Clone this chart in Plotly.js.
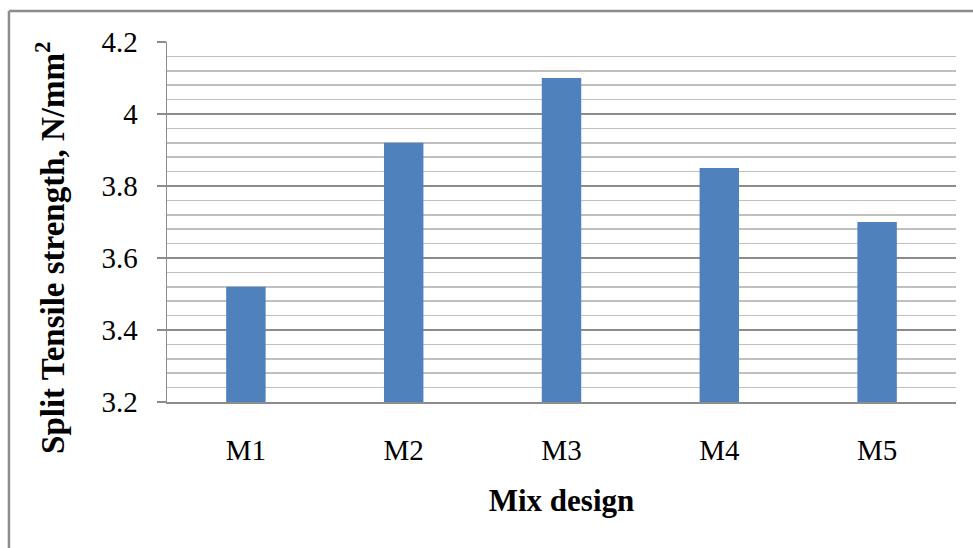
<!DOCTYPE html>
<html>
<head>
<meta charset="utf-8">
<script src="https://cdn.plot.ly/plotly-3.0.1.min.js"></script>
<style>
html,body{margin:0;padding:0;background:#fff;}
#chart{width:973px;height:548px;}
</style>
</head>
<body>
<div id="chart"></div>
<script>
const categories = ["M1", "M2", "M3", "M4", "M5"];
const splitTensile = [3.52, 3.92, 4.10, 3.85, 3.70];
const yTickVals = [3.2, 3.4, 3.6, 3.8, 4.0, 4.2];
const yTickText = ["3.2", "3.4", "3.6", "3.8", "4", "4.2"];
const yTitle = "<b>Split Tensile strength, N/mm<sup>2</sup></b>";
const xTitle = "<b>Mix design</b>";

const font = "Liberation Serif";

const trace = {
  type: "bar",
  x: categories,
  y: splitTensile,
  marker: {color: "#4F81BD", line: {width: 0}},
  hoverinfo: "x+y"
};

const layout = {
  width: 973,
  height: 548,
  margin: {l: 167, r: 17, t: 42, b: 146},
  paper_bgcolor: "#ffffff",
  plot_bgcolor: "#ffffff",
  showlegend: false,
  bargap: 0.75,
  font: {family: font, color: "#000"},
  xaxis: {
    type: "category",
    showgrid: false,
    showline: true,
    linecolor: "#8c8c8c",
    linewidth: 1.5,
    ticks: "",
    tickfont: {family: font, size: 29, color: "#000"},
    ticklabelstandoff: 22,
    title: {text: xTitle, font: {family: font, size: 31, color: "#000"}, standoff: 24},
    zeroline: false
  },
  yaxis: {
    range: [3.2, 4.2],
    tickvals: yTickVals,
    ticktext: yTickText,
    showgrid: true,
    gridcolor: "#8c8c8c",
    gridwidth: 1.5,
    showline: true,
    linecolor: "#8c8c8c",
    linewidth: 1.5,
    ticks: "outside",
    ticklen: 9,
    tickwidth: 1.5,
    tickcolor: "#8c8c8c",
    ticklabelstandoff: 13,
    tickfont: {family: font, size: 29, color: "#000"},
    minor: {dtick: 0.04, tick0: 3.2, showgrid: true, gridcolor: "#c0c0c0", gridwidth: 1.5, ticks: ""},
    zeroline: false
  },
  annotations: [
    {text: yTitle, xref: "paper", yref: "paper", x: -0.1483, y: 0.4306, xanchor: "center", yanchor: "middle",
     textangle: -90, showarrow: false, font: {family: font, size: 33, color: "#000"}}
  ],
  shapes: [
    {type: "line", xref: "paper", yref: "paper", x0: -0.2003, x1: 1.1, y0: 1.0861, y1: 1.0861, line: {color: "#8c8c8c", width: 2.5}},
    {type: "line", xref: "paper", yref: "paper", x0: -0.2003, x1: -0.2003, y0: 1.0861, y1: -0.5, line: {color: "#8c8c8c", width: 2.5}}
  ]
};

Plotly.newPlot("chart", [trace], layout, {displayModeBar: false, staticPlot: true});
</script>
</body>
</html>
